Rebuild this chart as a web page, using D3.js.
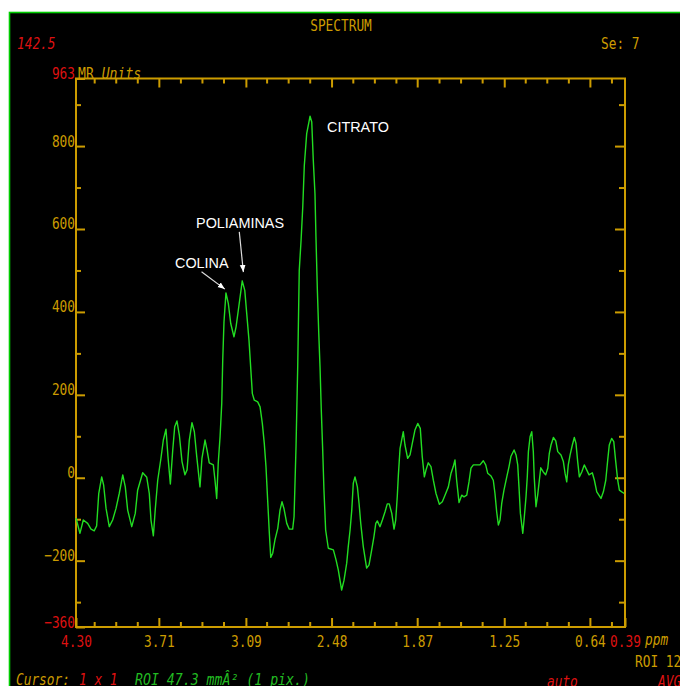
<!DOCTYPE html>
<html>
<head>
<meta charset="utf-8">
<script src="https://cdn.jsdelivr.net/npm/d3@7"></script>
<style>
  html, body { margin: 0; padding: 0; background: #fff; }
  svg { display: block; }
</style>
</head>
<body>
<script>

// datos del espectro (ppm, intensidad en MR Units)
const ppm = [4.300, 4.272, 4.248, 4.217, 4.193, 4.170, 4.153, 4.138, 4.117, 4.103,
  4.086, 4.063, 4.039, 4.015, 3.992, 3.967, 3.949, 3.932, 3.903, 3.878,
  3.861, 3.825, 3.796, 3.778, 3.766, 3.749, 3.735, 3.718, 3.695, 3.678,
  3.659, 3.645, 3.628, 3.611, 3.597, 3.581, 3.564, 3.545, 3.524, 3.509,
  3.493, 3.474, 3.457, 3.440, 3.417, 3.403, 3.381, 3.367, 3.351, 3.322,
  3.310, 3.298, 3.287, 3.274, 3.262, 3.255, 3.246, 3.232, 3.215, 3.198,
  3.175, 3.160, 3.144, 3.116, 3.098, 3.084, 3.068, 3.056, 3.044, 3.030,
  3.006, 2.989, 2.973, 2.959, 2.947, 2.935, 2.923, 2.913, 2.899, 2.883,
  2.863, 2.847, 2.833, 2.819, 2.799, 2.781, 2.757, 2.747, 2.733, 2.721,
  2.710, 2.697, 2.685, 2.674, 2.657, 2.633, 2.621, 2.610, 2.598, 2.591,
  2.581, 2.571, 2.562, 2.553, 2.543, 2.534, 2.522, 2.503, 2.467, 2.448,
  2.432, 2.408, 2.391, 2.372, 2.361, 2.348, 2.336, 2.325, 2.313, 2.296,
  2.284, 2.272, 2.254, 2.230, 2.213, 2.194, 2.178, 2.165, 2.154, 2.135,
  2.118, 2.099, 2.083, 2.069, 2.051, 2.035, 2.023, 2.012, 2.004, 1.992,
  1.969, 1.957, 1.938, 1.921, 1.905, 1.886, 1.866, 1.848, 1.834, 1.819,
  1.807, 1.791, 1.772, 1.755, 1.736, 1.712, 1.691, 1.672, 1.648, 1.629,
  1.613, 1.601, 1.589, 1.572, 1.553, 1.537, 1.517, 1.501, 1.487, 1.470,
  1.423, 1.399, 1.382, 1.368, 1.344, 1.328, 1.316, 1.304, 1.292, 1.280,
  1.268, 1.252, 1.232, 1.216, 1.202, 1.180, 1.166, 1.154, 1.145, 1.135,
  1.118, 1.107, 1.095, 1.086, 1.078, 1.066, 1.054, 1.043, 1.036, 1.024,
  1.012, 1.000, 0.990, 0.972, 0.955, 0.940, 0.929, 0.917, 0.900, 0.883,
  0.869, 0.846, 0.829, 0.817, 0.805, 0.794, 0.781, 0.765, 0.751, 0.739,
  0.727, 0.715, 0.698, 0.680, 0.663, 0.646, 0.623, 0.608, 0.591, 0.561,
  0.544, 0.527, 0.513, 0.502, 0.485, 0.470, 0.456, 0.442, 0.430, 0.413,
  0.395];

const intensidad = [-97, -134, -102, -110, -124, -128, -116, -38, 2, -18,
  -74, -118, -102, -74, -38, 7, -22, -78, -118, -86,
  -30, 12, 1, -38, -102, -140, -74, -6, 47, 91,
  117, 51, -15, 67, 123, 137, 103, 39, 7, 19,
  91, 133, 111, 51, -22, 47, 91, 67, 36, 31,
  -6, -50, 35, 99, 179, 284, 376, 446, 420, 372,
  340, 364, 404, 475, 452, 396, 332, 267, 203, 187,
  183, 171, 131, 83, 27, -54, -134, -192, -182, -150,
  -122, -78, -58, -74, -110, -124, -124, -94, 75, 267,
  500, 573, 653, 753, 830, 872, 858, 766, 685, 581,
  452, 348, 267, 163, 67, -30, -126, -170, -174, -198,
  -222, -271, -247, -206, -166, -126, -78, -13, 2, -22,
  -62, -110, -166, -218, -210, -174, -142, -110, -104, -118,
  -102, -82, -63, -63, -86, -124, -102, -46, 7, 71,
  111, 79, 47, 55, 83, 115, 131, 119, 51, 2,
  19, 36, 27, -6, -38, -64, -58, -42, -22, 11,
  27, 43, -6, -60, -42, -46, -42, -10, 23, 31,
  31, 41, 31, 11, 4, -6, -38, -82, -114, -102,
  -62, -30, 2, 27, 52, 67, 55, 31, -22, -86,
  -134, -94, -46, 2, 63, 99, 111, 63, -1, -70,
  -42, -6, 24, 14, 7, 23, 59, 79, 97, 89,
  63, 55, 39, 11, -10, 31, 55, 79, 97, 83,
  39, 2, 14, 31, 19, 7, 12, -6, -34, -50,
  -34, -6, 43, 79, 95, 87, 39, -6, -30, -34, -38];

// ticks
const xTicks = [4.30, 3.71, 3.09, 2.48, 1.87, 1.25, 0.64, 0.39];
const yTicks = [-360, -200, 0, 200, 400, 600, 800, 963];
const yMinor = [-300, -100, 100, 300, 500, 700, 900];

// anotaciones (label en ppm / valor, flecha de -> a)
const etiquetas = ['CITRATO', 'POLIAMINAS', 'COLINA'];
const etiquetaPpm = [2.512, 3.445, 3.595];
const etiquetaVal = [835, 602, 505];
const flechaDesde = [null, [3.137, 593], [3.406, 497]];
const flechaHasta = [null, [3.108, 496], [3.240, 455]];

// colores
const oro = '#cc9c00', rojo = '#dd1111', verdeTxt = '#22bb22', verdeLinea = '#22dd22';

const w = 680, h = 686;

const svg = d3.select('body').append('svg')
  .attr('width', w)
  .attr('height', h);

// marco negro con borde verde
svg.append('rect')
  .attr('x', 9.5).attr('y', 12.5)
  .attr('width', 720).attr('height', 720)
  .attr('fill', '#000')
  .attr('stroke', '#00cc00')
  .attr('stroke-width', 1.6);

// texto estilo monitor (mono comprimido)
function texto(x, y, str, color, opts) {
  opts = opts || {};
  const t = svg.append('text')
    .attr('x', x).attr('y', y)
    .attr('fill', color)
    .attr('font-family', '"DejaVu Sans Mono", monospace')
    .attr('font-size', 16)
    .attr('text-anchor', opts.anchor || 'start')
    .attr('font-style', opts.italic ? 'italic' : 'normal')
    .attr('textLength', str.length * (opts.cw || 7.7))
    .attr('lengthAdjust', 'spacingAndGlyphs')
    .text(str);
  return t;
}

// escalas
const x = d3.scaleLinear().domain([4.30, 0.39]).range([76, 625]);
const y = d3.scaleLinear().domain([-360, 963]).range([627, 78.5]);

// minor ticks del eje X (cuartos entre los mayores)
const paso = (xTicks[1] - xTicks[6]) / 20;
const xMinor = d3.range(-4, 24)
  .filter((i) => i % 4 !== 0)
  .map((i) => xTicks[1] - i * paso)
  .filter((v) => v < 4.30 && v > 0.39);

const xMayores = xTicks.slice(1, -1);

function estiloEje(g) {
  g.attr('color', oro);
  g.select('.domain').remove();
  g.selectAll('.tick line').attr('stroke-width', 2);
}

// Eje X abajo
svg.append('g')
  .attr('transform', 'translate(0,' + y(-360) + ')')
  .call(d3.axisBottom(x).tickValues(xTicks).tickSize(-9).tickFormat(d3.format('.2f')))
  .call(estiloEje)
  .call((g) => g.selectAll('.tick text')
    .attr('y', 20).attr('dy', 0)
    .attr('font-family', '"DejaVu Sans Mono", monospace')
    .attr('font-size', 16)
    .attr('textLength', 4 * 7.7)
    .attr('lengthAdjust', 'spacingAndGlyphs')
    .attr('fill', (d, i) => (i === 0 || i === xTicks.length - 1) ? rojo : oro));

svg.append('g')
  .attr('transform', 'translate(0,' + y(-360) + ')')
  .call(d3.axisBottom(x).tickValues(xMinor).tickSize(-5).tickFormat(''))
  .call(estiloEje);

// Eje X arriba
svg.append('g')
  .attr('transform', 'translate(0,' + y(963) + ')')
  .call(d3.axisTop(x).tickValues(xMayores).tickSize(-9).tickFormat(''))
  .call(estiloEje);
svg.append('g')
  .attr('transform', 'translate(0,' + y(963) + ')')
  .call(d3.axisTop(x).tickValues(xMinor).tickSize(-5).tickFormat(''))
  .call(estiloEje);

// Eje Y izquierda
svg.append('g')
  .attr('transform', 'translate(' + x(4.30) + ',0)')
  .call(d3.axisLeft(y).tickValues(yTicks).tickSize(-9).tickPadding(1).tickFormat(d3.format('d')))
  .call(estiloEje)
  .call((g) => g.selectAll('.tick text')
    .attr('dy', 0)
    .attr('font-family', '"DejaVu Sans Mono", monospace')
    .attr('font-size', 16)
    .attr('textLength', (d) => String(d).length * 7.7)
    .attr('lengthAdjust', 'spacingAndGlyphs')
    .attr('fill', (d, i) => (i === 0 || i === yTicks.length - 1) ? rojo : oro));

svg.append('g')
  .attr('transform', 'translate(' + x(4.30) + ',0)')
  .call(d3.axisLeft(y).tickValues(yMinor).tickSize(-5).tickFormat(''))
  .call(estiloEje);

// Eje Y derecha
svg.append('g')
  .attr('transform', 'translate(' + x(0.39) + ',0)')
  .call(d3.axisRight(y).tickValues(yTicks.slice(1, -1)).tickSize(-10).tickFormat(''))
  .call(estiloEje);
svg.append('g')
  .attr('transform', 'translate(' + x(0.39) + ',0)')
  .call(d3.axisRight(y).tickValues(yMinor).tickSize(-6).tickFormat(''))
  .call(estiloEje);

// caja del plot
svg.append('rect')
  .attr('x', x(4.30)).attr('y', y(963))
  .attr('width', x(0.39) - x(4.30))
  .attr('height', y(-360) - y(963))
  .attr('fill', 'none')
  .attr('stroke', oro)
  .attr('stroke-width', 2);

// linea del espectro
const puntos = ppm.map((p, i) => [p, intensidad[i]]);

const linea = d3.line()
  .x((d) => x(d[0]))
  .y((d) => y(d[1]));

svg.append('path')
  .datum(puntos)
  .attr('d', linea)
  .attr('fill', 'none')
  .attr('stroke', verdeLinea)
  .attr('stroke-width', 1.4)
  .attr('stroke-linejoin', 'round');

// anotaciones
svg.append('defs').append('marker')
  .attr('id', 'punta')
  .attr('viewBox', '0 0 10 10')
  .attr('refX', 10).attr('refY', 5)
  .attr('markerWidth', 6).attr('markerHeight', 6)
  .attr('orient', 'auto')
  .append('path')
  .attr('d', 'M0,1 L10,5 L0,9 Z')
  .attr('fill', '#fff');

etiquetas.forEach((et, i) => {
  svg.append('text')
    .attr('x', x(etiquetaPpm[i]))
    .attr('y', y(etiquetaVal[i]))
    .attr('fill', '#fff')
    .attr('font-family', '"Liberation Sans", Arial, sans-serif')
    .attr('font-size', 14.4)
    .text(et);
  if (flechaDesde[i]) {
    svg.append('line')
      .attr('x1', x(flechaDesde[i][0])).attr('y1', y(flechaDesde[i][1]))
      .attr('x2', x(flechaHasta[i][0])).attr('y2', y(flechaHasta[i][1]))
      .attr('stroke', '#ddd')
      .attr('stroke-width', 1.2)
      .attr('marker-end', 'url(#punta)');
  }
});

// textos del monitor
texto(341, 31, 'SPECTRUM', oro, { anchor: 'middle' });
texto(17, 49, '142.5', rojo, { italic: true });
texto(601, 49, 'Se: 7', oro);
svg.append('text')
  .attr('x', 78).attr('y', 79)
  .attr('fill', oro)
  .attr('font-family', '"DejaVu Sans Mono", monospace')
  .attr('font-size', 16)
  .attr('textLength', 8 * 7.9)
  .attr('lengthAdjust', 'spacingAndGlyphs')
  .call((t) => {
    t.append('tspan').text('MR ');
    t.append('tspan').attr('font-style', 'italic').text('Units');
  });
texto(645, 645, 'ppm', oro, { italic: true });
texto(635, 667, 'ROI 12', oro);
texto(16, 685, 'Cursor:', oro, { italic: true });
texto(79, 685, '1 x 1', rojo, { italic: true });
texto(135, 685, 'ROI 47.3 mmÂ² (1 pix.)', verdeTxt, { italic: true, cw: 7.95 });
texto(547, 687, 'auto', rojo, { italic: true });
texto(658, 687, 'AVG', rojo, { italic: true });

</script>
</body>
</html>
